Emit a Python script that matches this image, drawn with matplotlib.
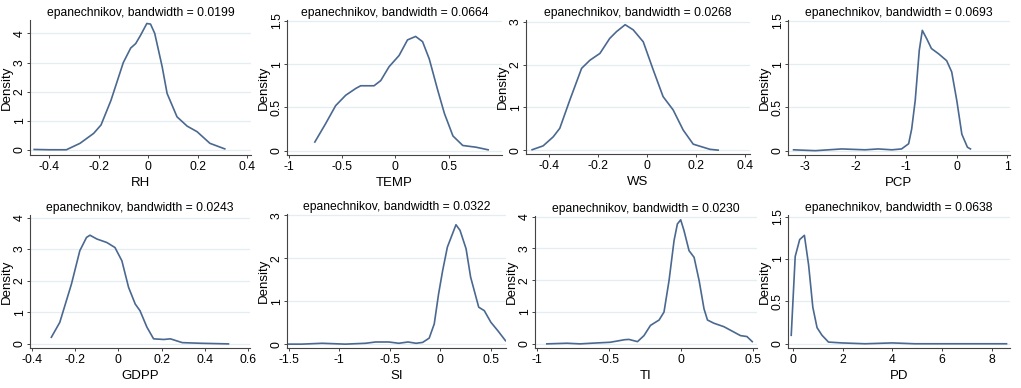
import matplotlib

matplotlib.use("Agg")
import matplotlib.pyplot as plt

plt.rcParams["font.family"] = ["Liberation Sans", "DejaVu Sans"]

# kernel density curves (x, density)
RH_X = [-0.46, -0.40, -0.33, -0.275, -0.22, -0.19, -0.15, -0.10, -0.07, -0.05, -0.03, -0.005, 0.01, 0.027,
        0.057, 0.077, 0.117, 0.158, 0.198, 0.25, 0.31]
RH_Y = [0.02, 0.01, 0.01, 0.23, 0.57, 0.86, 1.7, 3.0, 3.5, 3.65, 3.94, 4.34, 4.32, 4.0,
        2.86, 1.94, 1.14, 0.82, 0.63, 0.23, 0.04]

TEMP_X = [-0.755, -0.655, -0.56, -0.466, -0.37, -0.325, -0.2, -0.137, -0.059, 0.035, 0.114, 0.19, 0.255,
          0.318, 0.397, 0.46, 0.54, 0.632, 0.757, 0.87]
TEMP_Y = [0.10, 0.31, 0.52, 0.64, 0.72, 0.75, 0.75, 0.81, 0.97, 1.10, 1.28, 1.32, 1.26,
          1.06, 0.70, 0.43, 0.17, 0.06, 0.04, 0.01]

WS_X = [-0.47, -0.425, -0.384, -0.357, -0.316, -0.268, -0.234, -0.193, -0.153, -0.125, -0.09, -0.057,
        -0.016, 0.025, 0.065, 0.106, 0.147, 0.188, 0.256, 0.29]
WS_Y = [0.01, 0.1, 0.31, 0.51, 1.17, 1.91, 2.10, 2.26, 2.61, 2.77, 2.93, 2.81,
        2.53, 1.87, 1.25, 0.94, 0.47, 0.14, 0.02, 0.0]

PCP_X = [-3.22, -2.79, -2.27, -1.81, -1.55, -1.28, -1.09, -0.95, -0.89, -0.82, -0.74, -0.68, -0.59,
         -0.50, -0.36, -0.20, -0.10, 0.0, 0.10, 0.21, 0.27]
PCP_Y = [0.01, 0.0, 0.02, 0.01, 0.02, 0.01, 0.02, 0.08, 0.25, 0.58, 1.16, 1.39, 1.29,
         1.18, 1.12, 1.04, 0.91, 0.58, 0.19, 0.04, 0.02]

GDPP_X = [-0.311, -0.272, -0.218, -0.179, -0.148, -0.132, -0.10, -0.054, -0.016, 0.016, 0.047, 0.078,
          0.10, 0.132, 0.163, 0.21, 0.241, 0.296, 0.38, 0.51]
GDPP_Y = [0.21, 0.68, 1.89, 2.95, 3.37, 3.44, 3.32, 3.21, 3.05, 2.63, 1.79, 1.26,
          1.05, 0.53, 0.16, 0.14, 0.16, 0.04, 0.02, 0.0]

SI_X = [-1.5, -1.37, -1.17, -0.94, -0.74, -0.64, -0.51, -0.41, -0.32, -0.24, -0.175, -0.11, -0.06,
        -0.017, 0.023, 0.07, 0.155, 0.195, 0.255, 0.30, 0.38, 0.435, 0.50, 0.57, 0.645]
SI_Y = [0.0, 0.0, 0.02, 0.0, 0.02, 0.05, 0.05, 0.02, 0.05, 0.02, 0.04, 0.14, 0.47,
        1.17, 1.71, 2.26, 2.78, 2.65, 2.22, 1.56, 0.86, 0.78, 0.51, 0.31, 0.08]

TI_X = [-0.93, -0.79, -0.70, -0.58, -0.49, -0.39, -0.36, -0.30, -0.255, -0.21, -0.15, -0.116, -0.081,
        -0.046, -0.023, 0.0, 0.023, 0.058, 0.093, 0.128, 0.162, 0.186, 0.23, 0.30, 0.37, 0.415, 0.46, 0.497]
TI_Y = [0.0, 0.02, 0.0, 0.03, 0.05, 0.13, 0.14, 0.07, 0.26, 0.58, 0.75, 1.0, 1.99,
        3.25, 3.77, 3.9, 3.56, 2.93, 2.72, 1.99, 1.10, 0.75, 0.65, 0.54, 0.37, 0.26, 0.23, 0.07]

PD_X = [-0.07, 0.09, 0.27, 0.46, 0.63, 0.80, 0.97, 1.17, 1.43, 1.97, 2.9, 4.0, 4.9, 6.0, 6.93, 8.0, 8.6]
PD_Y = [0.10, 1.03, 1.23, 1.28, 0.93, 0.43, 0.19, 0.10, 0.02, 0.01, 0.0, 0.01, 0.0, 0.0, 0.0, 0.0, 0.0]

NAMES = ["RH", "TEMP", "WS", "PCP", "GDPP", "SI", "TI", "PD"]
BANDWIDTHS = ["0.0199", "0.0664", "0.0268", "0.0693", "0.0243", "0.0322", "0.0230", "0.0638"]
CURVES = [(RH_X, RH_Y), (TEMP_X, TEMP_Y), (WS_X, WS_Y), (PCP_X, PCP_Y),
          (GDPP_X, GDPP_Y), (SI_X, SI_Y), (TI_X, TI_Y), (PD_X, PD_Y)]
X_TICKS = [[-0.4, -0.2, 0, 0.2, 0.4], [-1, -0.5, 0, 0.5], [-0.4, -0.2, 0, 0.2, 0.4], [-3, -2, -1, 0, 1],
           [-0.4, -0.2, 0, 0.2, 0.4, 0.6], [-1.5, -1, -0.5, 0, 0.5], [-1, -0.5, 0, 0.5], [0, 2, 4, 6, 8]]
Y_TICKS = [[0, 1, 2, 3, 4], [0, 0.5, 1, 1.5], [0, 1, 2, 3], [0, 0.5, 1, 1.5],
           [0, 1, 2, 3, 4], [0, 1, 2, 3], [0, 1, 2, 3, 4], [0, 0.5, 1, 1.5]]

# layout in pixels: left, right, top, bottom; axis limits
BOXES = [(30, 251, 20, 155), (287, 502, 20, 155), (526, 750, 20, 154), (788, 1010, 20, 155),
         (30, 250, 215, 348), (287, 506, 214, 348), (535, 757, 216, 348), (788, 1010, 215, 348)]
XLIMS = [(-0.477, 0.416), (-1.016, 1.0), (-0.495, 0.42), (-3.33, 1.05),
         (-0.41, 0.61), (-1.517, 0.65), (-1.012, 0.53), (-0.2, 8.74)]
YLIMS = [(-0.17, 4.46), (-0.05, 1.51), (-0.09, 3.04), (-0.05, 1.51),
         (-0.13, 4.08), (-0.09, 3.03), (-0.13, 4.02), (-0.05, 1.52)]

W, H = 1021, 388
LINE_COLOR = "#4a6890"
GRID_COLOR = "#e4edf0"


def fmt(v):
    return f"{v:g}"


def main():
    fig = plt.figure(figsize=(W / 100, H / 100), dpi=100)
    for i in range(8):
        left, right, top, bottom = BOXES[i]
        ax = fig.add_axes([left / W, 1 - bottom / H, (right - left) / W, (bottom - top) / H])
        xs, ys = CURVES[i]
        ax.plot(xs, ys, color=LINE_COLOR, lw=1.2, solid_joinstyle="round")
        ax.set_xlim(*XLIMS[i])
        ax.set_ylim(*YLIMS[i])
        ax.set_xticks(X_TICKS[i])
        ax.set_xticklabels([fmt(v) for v in X_TICKS[i]])
        ax.set_yticks(Y_TICKS[i])
        ax.set_yticklabels([fmt(v) for v in Y_TICKS[i]], rotation=90, va="center")
        for v in Y_TICKS[i]:
            ax.axhline(v, color=GRID_COLOR, lw=0.9, zorder=0)
        for side in ("top", "right"):
            ax.spines[side].set_visible(False)
        for side in ("left", "bottom"):
            ax.spines[side].set_color("#444444")
            ax.spines[side].set_linewidth(0.8)
        ax.tick_params(axis="both", labelsize=8.8, length=2.5, width=0.7, color="#444444")
        ax.tick_params(axis="y", pad=0.5)
        ax.tick_params(axis="x", pad=2)
        ax.set_xlabel(NAMES[i], fontsize=9.5, labelpad=3)
        ax.set_ylabel("Density", fontsize=9.5, labelpad=1)
        ax.set_title(f"epanechnikov, bandwidth = {BANDWIDTHS[i]}", fontsize=8.75, pad=3)
    fig.savefig("out.png", dpi=100)
    plt.close(fig)


if __name__ == "__main__":
    main()
